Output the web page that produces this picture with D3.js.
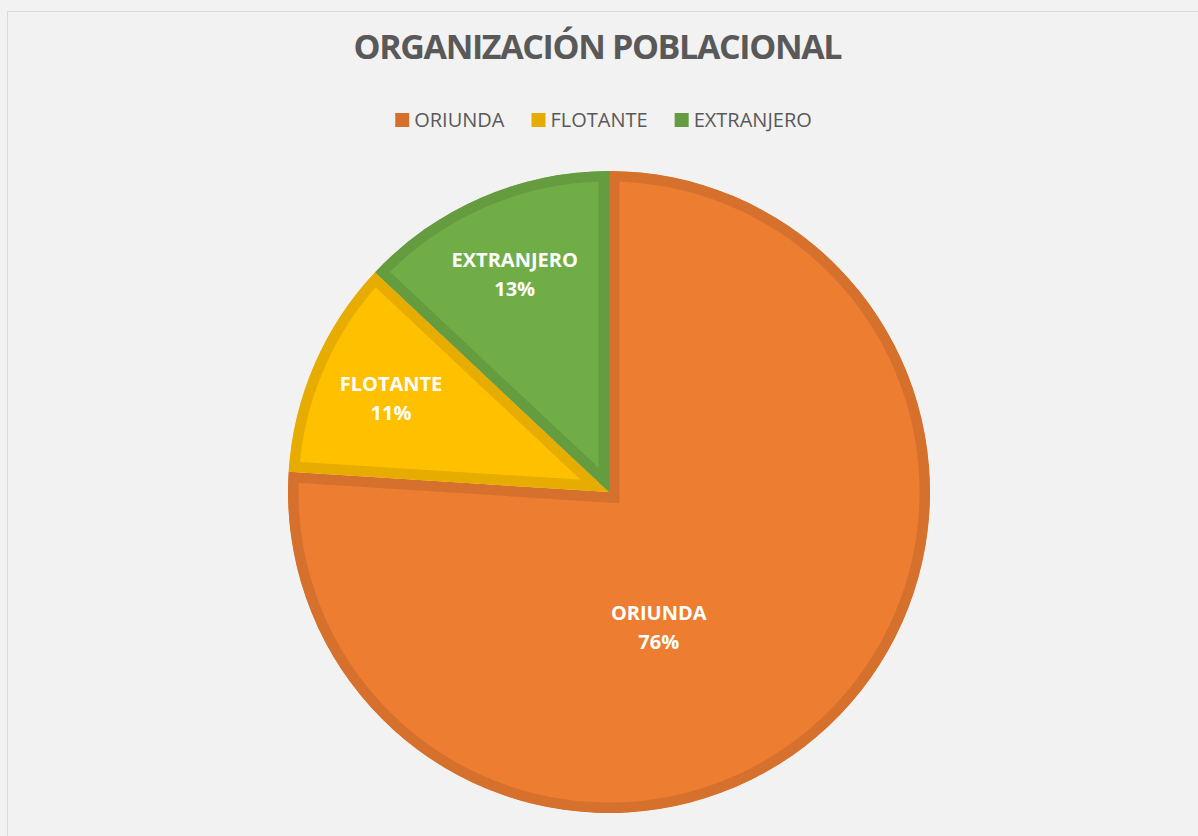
<!DOCTYPE html>
<html>
  <head>
    <meta charset="utf-8">
    <title>Organización poblacional</title>
    <script src="https://d3js.org/d3.v7.min.js"></script>
    <style>
      body {
        margin: 0;
        background: #f2f2f2;
      }
      svg text {
        font-family: "Open Sans", "Noto Sans", sans-serif;
      }
    </style>
  </head>
  <body>
    <div id="chart"></div>
    <script>
      // data
      var categories = ["ORIUNDA", "FLOTANTE", "EXTRANJERO"];
      var values = [76, 11, 13];
      var fills = ["#ed7d31", "#ffc000", "#70ad47"];
      var borders = ["#d6712d", "#e6ac00", "#659c40"];

      var width = 1198,
          height = 836;

      var svg = d3.select("#chart")
        .append("svg")
          .attr("width", width)
          .attr("height", height);

      // chart area frame
      svg.append("rect")
        .attr("x", 7.5)
        .attr("y", 11.5)
        .attr("width", width + 20)
        .attr("height", height + 20)
        .attr("fill", "#f2f2f2")
        .attr("stroke", "#d9d9d9");

      // title
      svg.append("text")
        .attr("x", 598)
        .attr("y", 59)
        .attr("text-anchor", "middle")
        .attr("textLength", 489)
        .attr("lengthAdjust", "spacing")
        .style("font-size", "34px")
        .style("font-weight", "bold")
        .style("fill", "#595959")
        .text("ORGANIZACIÓN POBLACIONAL");

      // legend, laid out from measured text widths
      var legend = svg.append("g");
      var items = legend.selectAll("g")
        .data(categories)
        .enter()
        .append("g");
      items.append("rect")
        .attr("width", 14)
        .attr("height", 14)
        .attr("y", 113)
        .attr("fill", function(d, i) { return borders[i]; });
      items.append("text")
        .attr("x", 19)
        .attr("y", 127)
        .style("font-size", "20px")
        .style("fill", "#595959")
        .text(function(d) { return d; });

      var offsets = [], x = 0;
      items.each(function() {
        offsets.push(x);
        x += 19 + d3.select(this).select("text").node().getComputedTextLength() + 27;
      });
      var legendWidth = x - 27;
      var legendLeft = 603.5 - legendWidth / 2;
      items.attr("transform", function(d, i) { return "translate(" + (legendLeft + offsets[i]) + ",0)"; });

      // pie
      var cx = 609, cy = 492, radius = 321;
      var g = svg.append("g")
        .attr("transform", "translate(" + cx + "," + cy + ")");

      var pie = d3.pie().sort(null).value(function(d) { return d.value; });
      var slices = pie(categories.map(function(c, i) { return { name: c, value: values[i], idx: i }; }));
      var arc = d3.arc().innerRadius(0).outerRadius(radius);
      var total = d3.sum(values);

      var defs = svg.append("defs");
      defs.selectAll("clipPath")
        .data(slices)
        .enter()
        .append("clipPath")
          .attr("id", function(d, i) { return "clip" + i; })
        .append("path")
          .attr("d", arc);

      // each slice gets an inner border in a darker shade
      g.selectAll("path.slice")
        .data(slices)
        .enter()
        .append("path")
          .attr("class", "slice")
          .attr("d", arc)
          .attr("fill", function(d) { return fills[d.data.idx]; })
          .attr("stroke", function(d) { return borders[d.data.idx]; })
          .attr("stroke-width", 21)
          .attr("stroke-linejoin", "miter")
          .attr("clip-path", function(d, i) { return "url(#clip" + i + ")"; });

      // data labels
      var labels = g.selectAll("g.label")
        .data(slices)
        .enter()
        .append("g")
          .attr("class", "label")
          .attr("transform", function(d) {
            var big = d.value / total > 0.5;
            var a = (d.startAngle + d.endAngle) / 2 + (big ? 0.4 : 0);
            var r = radius * (big ? 0.447 : 0.74);
            return "translate(" + (r * Math.sin(a)) + "," + (-r * Math.cos(a)) + ")";
          });
      labels.append("text")
        .attr("text-anchor", "middle")
        .attr("y", -7)
        .style("font-size", "20px")
        .style("font-weight", "bold")
        .style("fill", "#ffffff")
        .text(function(d) { return d.data.name; });
      labels.append("text")
        .attr("text-anchor", "middle")
        .attr("y", 22)
        .style("font-size", "20px")
        .style("font-weight", "bold")
        .style("fill", "#ffffff")
        .text(function(d) { return Math.round(d.value / total * 100) + "%"; });
    </script>
  </body>
</html>
